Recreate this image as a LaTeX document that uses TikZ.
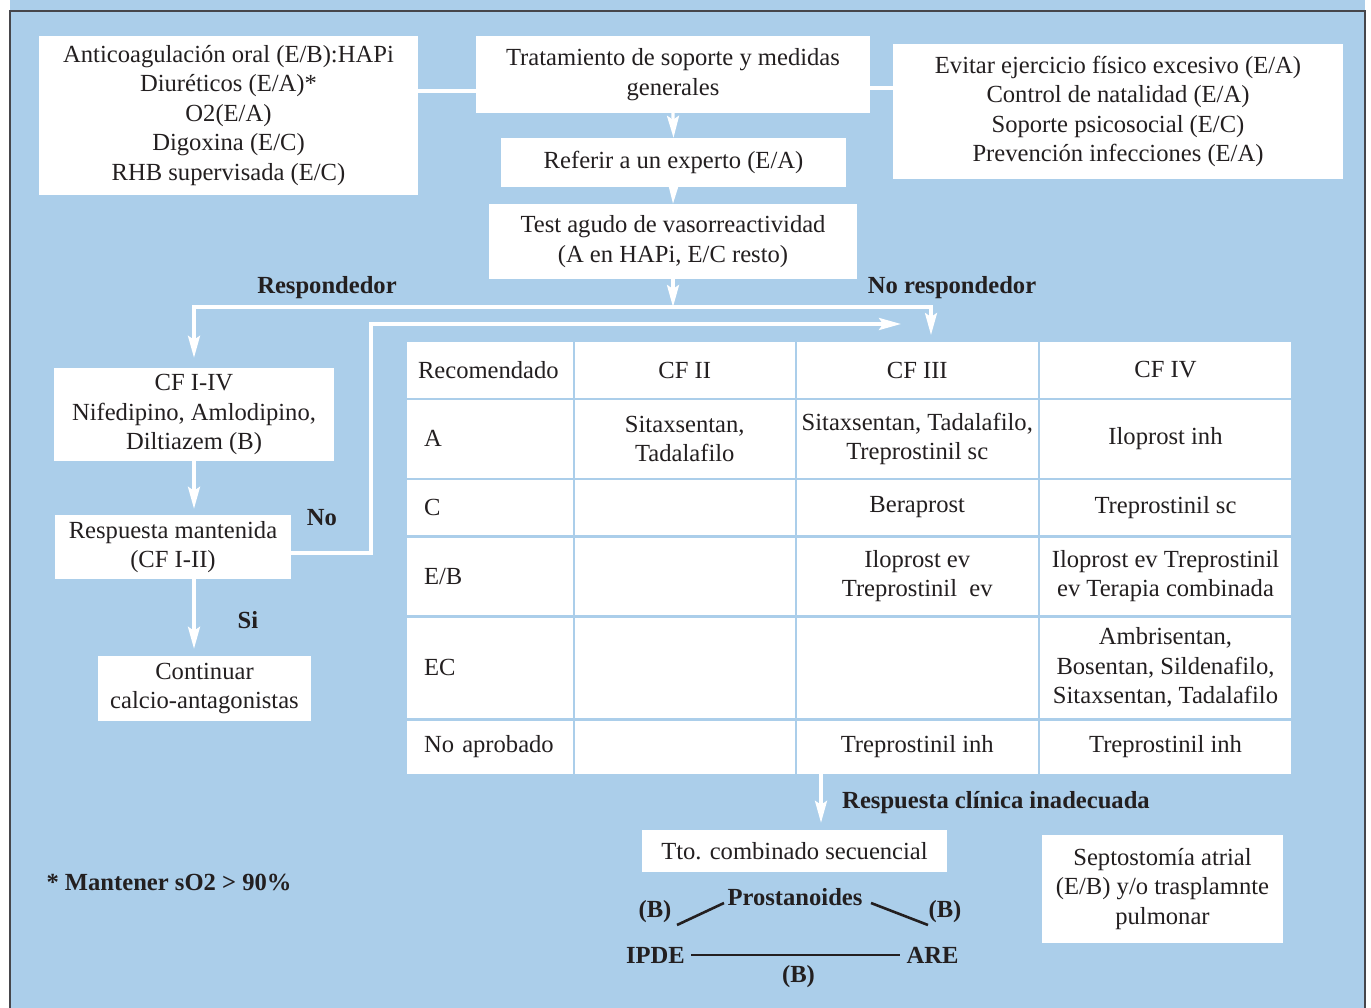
\documentclass[tikz,border=0pt]{standalone}
\usepackage{fontspec}
\setmainfont{Liberation Serif}
\usetikzlibrary{arrows.meta}
\definecolor{bg}{RGB}{171,206,234}
\definecolor{txt}{RGB}{35,31,32}
\definecolor{frame}{RGB}{70,70,75}
\newcommand{\fs}{\fontsize{24.6}{29.5}\selectfont}
\newcommand{\tc}[7]{\node[cell,#6, minimum width={(#3-#2)*1pt}, minimum height={(#5-#4)*1pt}] (#1) at ({(#2+#3)/2},{(#4+#5)/2}) {#7};}
\tikzset{
  wbox/.style={fill=white, draw=none, inner sep=0pt, align=center, font=\fs, text=txt},
  cell/.style={fill=white, draw=none, inner sep=0pt, align=center, font=\fs, text=txt},
  lcell/.style={align=left, inner xsep=17pt, text width=131.5pt},
  hcell/.style={align=left, inner xsep=11pt, text width=143.5pt},
  lbl/.style={font=\fs\bfseries, text=txt, inner sep=0pt},
  wline/.style={draw=white, line width=3.2pt},
  warrow/.style={draw=white, line width=3.2pt, -{Stealth[length=22pt, width=12pt, inset=4pt]}},
  dline/.style={draw=txt, line width=2.6pt},
}
\begin{document}
\begin{tikzpicture}[x=1pt, y=-1pt]
\useasboundingbox (0,0) rectangle (1371,1008);
\fill[white] (0,0) rectangle (1371,1008);
\fill[bg] (10,0) rectangle (1365,1008);
\draw[frame, line width=1.6pt] (10,1008) -- (10,11) -- (1365,11) -- (1365,1008);

% top boxes
\node[wbox, minimum width=379pt, minimum height=159pt] (lbox) at (228.5,115.5)
  {Anticoagulación oral (E/B):HAPi\\Diuréticos (E/A)*\\O2(E/A)\\Digoxina (E/C)\\RHB supervisada (E/C)};
\node[wbox, minimum width=394pt, minimum height=77pt] (trat) at (673,74.5)
  {Tratamiento de soporte y medidas\\generales};
\node[wbox, minimum width=450pt, minimum height=135pt] (rbox) at (1118,111.5)
  {Evitar ejercicio físico excesivo (E/A)\\Control de natalidad (E/A)\\Soporte psicosocial (E/C)\\Prevención infecciones (E/A)};
\node[wbox, minimum width=345pt, minimum height=49pt] (ref) at (673.5,162.5)
  {Referir a un experto (E/A)};
\node[wbox, minimum width=368pt, minimum height=75pt] (test) at (673,241.5)
  {Test agudo de vasorreactividad\\(A en HAPi, E/C resto)};

% left column
\node[wbox, minimum width=280pt, minimum height=93pt] (cf) at (194,414.5)
  {CF I-IV\\Nifedipino, Amlodipino,\\Diltiazem (B)};
\node[wbox, minimum width=236pt, minimum height=64pt] (resp) at (173,547)
  {Respuesta mantenida\\(CF I-II)};
\node[wbox, minimum width=213pt, minimum height=65pt] (cont) at (204.5,688.5)
  {Continuar\\calcio-antagonistas};

% bottom boxes
\node[wbox, minimum width=305pt, minimum height=42pt] (tto) at (794.5,851)
  {Tto. combinado secuencial};
\node[wbox, minimum width=241pt, minimum height=108pt] (sept) at (1162.5,889)
  {Septostomía atrial\\(E/B) y/o trasplamnte\\pulmonar};

% table
\tc{c11}{407}{572.5}{342.5}{397.5}{hcell}{Recomendado}
\tc{c12}{575}{794.5}{342.5}{397.5}{}{CF II}
\tc{c13}{797}{1037.5}{342.5}{397.5}{}{CF III}
\tc{c14}{1040}{1291}{342.5}{397.5}{}{CF IV}
\tc{c21}{407}{572.5}{400}{477.5}{lcell}{A}
\tc{c22}{575}{794.5}{400}{477.5}{}{Sitaxsentan,\\Tadalafilo}
\tc{c23}{797}{1037.5}{400}{477.5}{}{Sitaxsentan, Tadalafilo,\\Treprostinil sc}
\tc{c24}{1040}{1291}{400}{477.5}{}{Iloprost inh}
\tc{c31}{407}{572.5}{480}{535}{lcell}{C}
\tc{c32}{575}{794.5}{480}{535}{}{}
\tc{c33}{797}{1037.5}{480}{535}{}{Beraprost}
\tc{c34}{1040}{1291}{480}{535}{}{Treprostinil sc}
\tc{c41}{407}{572.5}{537.5}{615}{lcell}{E/B}
\tc{c42}{575}{794.5}{537.5}{615}{}{}
\tc{c43}{797}{1037.5}{537.5}{615}{}{Iloprost ev\\Treprostinil\ \ ev}
\tc{c44}{1040}{1291}{537.5}{615}{}{Iloprost ev Treprostinil\\ev Terapia combinada}
\tc{c51}{407}{572.5}{617.5}{718}{lcell}{EC}
\tc{c52}{575}{794.5}{617.5}{718}{}{}
\tc{c53}{797}{1037.5}{617.5}{718}{}{}
\tc{c54}{1040}{1291}{617.5}{718}{}{Ambrisentan,\\Bosentan, Sildenafilo,\\Sitaxsentan, Tadalafilo}
\tc{c61}{407}{572.5}{720.5}{773.5}{lcell}{No aprobado}
\tc{c62}{575}{794.5}{720.5}{773.5}{}{}
\tc{c63}{797}{1037.5}{720.5}{773.5}{}{Treprostinil inh}
\tc{c64}{1040}{1291}{720.5}{773.5}{}{Treprostinil inh}

% labels
\node[lbl] (lresp) at (327,288) {Respondedor};
\node[lbl] (lnoresp) at (952,288) {No respondedor};
\node[lbl] (lno) at (322,518) {No};
\node[lbl] (lsi) at (248,620) {Si};
\node[lbl] (lclin) at (996,803) {Respuesta clínica inadecuada};
\node[lbl] (lmant) at (169,882) {* Mantener sO2 > 90\%};
\node[lbl] (prost) at (795,897) {Prostanoides};
\node[lbl] (bl) at (655,912) {(B)};
\node[lbl] (br) at (945,912) {(B)};
\node[lbl] (ipde) at (655.5,955) {IPDE};
\node[lbl] (are) at (932.5,955) {ARE};
\node[lbl] (bb) at (798.5,977) {(B)};

% connectors top
\path ([yshift=-16.5pt]trat.west) coordinate (tl);
\draw[wline] (tl) -- (tl -| lbox.east);
\path ([yshift=-13.5pt]trat.east) coordinate (tr);
\draw[wline] (tr) -- (tr -| rbox.west);
\draw[warrow] (trat.south) -- (ref.north);
\draw[warrow] (ref.south) -- (test.north);
\coordinate (split) at (673,307);
\draw[warrow] (test.south) -- (split);
\coordinate (nrtip) at (931,335);
\draw[wline, line join=miter] (cf.north |- split) -- (nrtip |- split);
\draw[warrow, shorten >=10pt] (split) -| (cf.north);
\draw[warrow] (split) -| (nrtip);

% no-response loop
\coordinate (jog) at (371,324);
\coordinate (ntip) at (901,324);
\draw[warrow] ([yshift=-6pt]resp.east) -| (jog) -- (ntip);

% left column arrows
\draw[warrow, shorten >=6pt] (cf.south) -- (cf.south |- resp.north);
\draw[warrow, shorten >=7pt] (cf.south |- resp.south) -- (cf.south |- cont.north);

% bottom arrow
\coordinate (tb) at (821,774);
\draw[warrow, shorten >=7pt] (tb) -- (tb |- tto.north);

% triangle
\coordinate (p1) at (677,925); \coordinate (p2) at (724,903);
\coordinate (p3) at (871,903); \coordinate (p4) at (928,925);
\draw[dline] (p1) -- (p2);
\draw[dline] (p3) -- (p4);
\draw[dline] ([xshift=6pt]ipde.east) -- ([xshift=-6pt]are.west);
\end{tikzpicture}
\end{document}
